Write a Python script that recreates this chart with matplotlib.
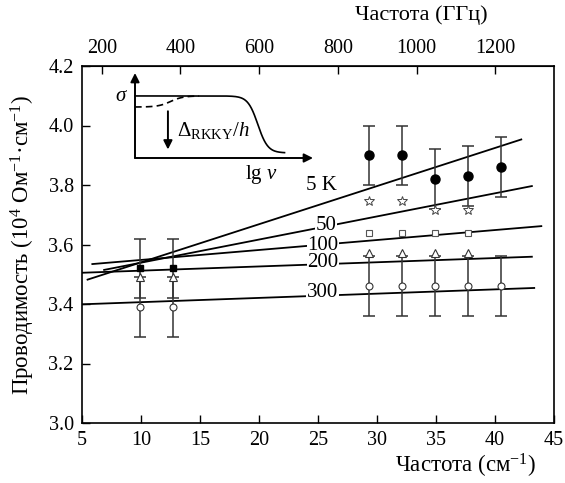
import numpy as np
import matplotlib
matplotlib.use("Agg")
import matplotlib.pyplot as plt

plt.rcParams["font.family"] = ["Liberation Serif", "DejaVu Serif"]
plt.rcParams["mathtext.fontset"] = "custom"
plt.rcParams["mathtext.rm"] = "Liberation Serif"
plt.rcParams["mathtext.it"] = "Liberation Serif:italic"
plt.rcParams["mathtext.bf"] = "Liberation Serif:bold"

# Measurement frequencies, cm^-1
freq_low = [9.9, 12.7]
freq_high = [29.3, 32.1, 34.9, 37.7, 40.5]

# Conductivity, 10^4 Ohm^-1 cm^-1
sigma_5K_low = [3.52, 3.52]
sigma_5K_high = [3.90, 3.90, 3.82, 3.83, 3.86]
err_5K = 0.10
sigma_50K_high = [3.745, 3.745, 3.715, 3.715]
sigma_100K_high = [3.64, 3.64, 3.64, 3.64]
sigma_200K_low = [3.49, 3.49]
sigma_200K_high = [3.57, 3.57, 3.57, 3.57]
sigma_300K_low = [3.39, 3.39]
sigma_300K_high = [3.46, 3.46, 3.46, 3.46, 3.46]
err_300K = 0.10

# Linear fits per temperature: end points (freq, sigma)
fit_labels = ["5 K", "50", "100", "200", "300"]
fit_x0 = [5.4, 6.8, 5.8, 5.0, 5.0]
fit_x1 = [42.3, 43.2, 44.0, 43.2, 43.4]
fit_y0 = [3.481, 3.514, 3.534, 3.505, 3.399]
fit_y1 = [3.954, 3.797, 3.662, 3.559, 3.454]

x_ticks = [5, 10, 15, 20, 25, 30, 35, 40, 45]
y_ticks = [3.0, 3.2, 3.4, 3.6, 3.8, 4.0, 4.2]
ghz_ticks = [200, 400, 600, 800, 1000, 1200]
CM_TO_GHZ = 29.9792458

# where the temperature labels sit on their lines
label_pos = [(25.3, 3.797), (25.7, 3.664), (25.4, 3.598), (25.4, 3.538), (25.4, 3.439)]

W, H = 565, 483
fig = plt.figure(figsize=(W / 100, H / 100), dpi=100)
ax = fig.add_axes([82 / W, 1 - 423 / H, (554 - 82) / W, (423 - 66) / H])

ax.set_xlim(5, 45)
ax.set_ylim(3.0, 4.2)
ax.set_xticks(x_ticks)
ax.set_yticks(y_ticks)
ax.set_xticklabels([str(v) for v in x_ticks])
ax.set_yticklabels([f"{v:.1f}" for v in y_ticks])
ax.tick_params(direction="in", length=6, width=1.0, labelsize=14.5, color="black")
ax.tick_params(axis="x", pad=6)
ax.tick_params(axis="y", pad=6)
for s in ax.spines.values():
    s.set_linewidth(1.2)

# fit lines with their temperature labels
for lab, x0, x1, y0, y1, (lx, ly) in zip(fit_labels, fit_x0, fit_x1, fit_y0, fit_y1, label_pos):
    ax.plot([x0, x1], [y0, y1], color="black", lw=1.3, zorder=2, solid_capstyle="butt")
    ax.text(lx, ly, lab, fontsize=15, ha="center", va="center", zorder=5,
            bbox=dict(facecolor="white", edgecolor="none", pad=0.5))

ebar_kw = dict(fmt="none", ecolor="#333333", elinewidth=1.1, capsize=4, capthick=1.1, zorder=3)
ax.errorbar(freq_low, sigma_5K_low, yerr=err_5K, **ebar_kw)
ax.errorbar(freq_high, sigma_5K_high, yerr=err_5K, **ebar_kw)
ax.errorbar(freq_low, sigma_300K_low, yerr=err_300K, **ebar_kw)
ax.errorbar(freq_high, sigma_300K_high, yerr=err_300K, **ebar_kw)

ax.plot(freq_high, sigma_5K_high, "o", ms=6.5, mfc="black", mec="black", zorder=4)
ax.plot(freq_low, sigma_5K_low, "s", ms=5, mfc="black", mec="black", zorder=4)
ax.plot(freq_high[:4], sigma_50K_high, "*", ms=7, mfc="white", mec="#444444", mew=0.7, zorder=4)
ax.plot(freq_high[:4], sigma_100K_high, "s", ms=4.5, mfc="white", mec="#555555", mew=0.8, zorder=4)
ax.plot(freq_high[:4], sigma_200K_high, "^", ms=6, mfc="white", mec="#333333", mew=0.8, zorder=4)
ax.plot(freq_low, sigma_200K_low, "^", ms=6, mfc="white", mec="#333333", mew=0.8, zorder=4)
ax.plot(freq_high, sigma_300K_high, "o", ms=5, mfc="white", mec="#333333", mew=0.8, zorder=4)
ax.plot(freq_low, sigma_300K_low, "o", ms=5, mfc="white", mec="#333333", mew=0.8, zorder=4)

ax.set_ylabel("Проводимость (10$^{4}$ Ом$^{-1}$·см$^{-1}$)", fontsize=16.5, labelpad=8)
fig.text(466 / W, 1 - 466 / H, "Частота (см$^{-1}$)", fontsize=16.5, ha="center", va="center")

top = ax.secondary_xaxis("top", functions=(lambda x: x * CM_TO_GHZ, lambda g: g / CM_TO_GHZ))
top.set_xticks(ghz_ticks)
top.set_xticklabels([str(v) for v in ghz_ticks])
top.tick_params(direction="in", length=6, width=1.0, labelsize=14.5, pad=6)
fig.text(421 / W, 1 - 15 / H, "Частота (ГГц)", fontsize=16, ha="center", va="center")

# Schematic inset: sigma versus lg(nu)
ins = fig.add_axes([135 / W, 1 - 158 / H, (313 - 135) / W, (158 - 73) / H])
ins.set_xlim(0, 1)
ins.set_ylim(0, 1)
ins.axis("off")
arrow = dict(arrowstyle="-|>", lw=1.4, color="black", mutation_scale=13, shrinkA=0, shrinkB=0)
ins.annotate("", xy=(0, 1.0), xytext=(0, 0), arrowprops=arrow, annotation_clip=False)
ins.annotate("", xy=(1.0, 0), xytext=(0, 0), arrowprops=arrow, annotation_clip=False)
u = np.linspace(0, 0.84, 200)
ins.plot(u, 0.06 + 0.67 / (1 + np.exp((u - 0.69) / 0.028)), color="black", lw=1.2, clip_on=False)
ud = np.linspace(0, 0.36, 80)
ins.plot(ud, 0.73 - 0.13 / (1 + np.exp((ud - 0.2) / 0.035)), color="black", lw=1.2,
         ls=(0, (4, 2.5)), clip_on=False)
ins.annotate("", xy=(0.185, 0.10), xytext=(0.185, 0.55), arrowprops=arrow, annotation_clip=False)
ins.text(0.235, 0.32, r"$\mathit{Δ}_{\mathrm{RKKY}}/\mathit{h}$", fontsize=15, ha="left", va="center")
ins.text(-0.075, 0.72, r"$\mathit{σ}$", fontsize=15, ha="center", va="center")
ins.text(0.71, -0.2, r"lg $\mathit{ν}$", fontsize=15, ha="center", va="center")

fig.savefig("out.png", dpi=100)
